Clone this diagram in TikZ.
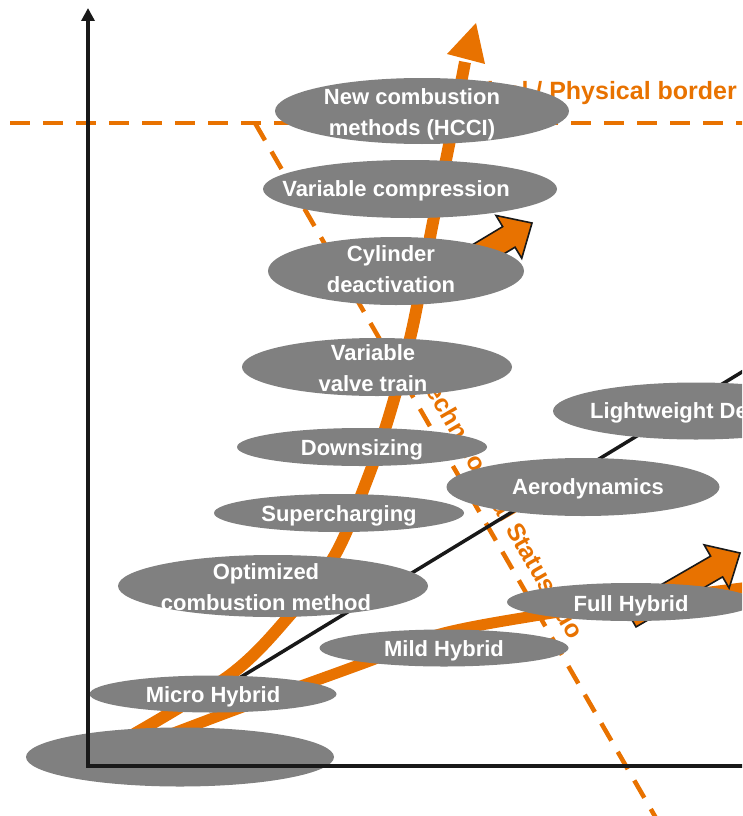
\documentclass[tikz,border=0pt]{standalone}
\usepackage{fontspec}
\setmainfont{Liberation Sans}
\usetikzlibrary{shapes.geometric,arrows.meta}
\definecolor{org}{RGB}{232,114,0}
\definecolor{gry}{RGB}{128,128,128}
\begin{document}
\begin{tikzpicture}[x=1pt,y=-1pt,
  ell/.style={ellipse, fill=gry, inner sep=0pt},
  lbl/.style={text=white, font=\bfseries\fontsize{22}{31}\selectfont, align=center, inner sep=0pt},
  lblone/.style={lbl, text height=16pt, text depth=0pt},
  otext/.style={text=org, font=\bfseries\fontsize{25}{30}\selectfont, inner sep=0pt},
  dashline/.style={org, line width=4.5pt, dash pattern=on 20pt off 13pt},
  trend/.style={org, line width=12pt},
  hybrid/.style={org, line width=11pt},
  blockarrow/.style={fill=org, draw=black!90, line width=1.6pt, line join=miter},
  axisline/.style={black!90, line width=3.5pt, line join=miter}]
\useasboundingbox (0,0) rectangle (742,816);
\clip (0,0) rectangle (742,816);

% borders
\coordinate (hb0) at (10,123);
\coordinate (hb1) at (745,123);
\coordinate (db0) at (255,123);
\coordinate (db1) at (660,825);
\draw[dashline] (hb0) -- (hb1);
\draw[dashline] (db0) -- (db1);
\node[otext, anchor=base west] (pb) at (362,99) {Technological / Physical border};
\node[otext, rotate=-60] (sq) at (500,507) {Technological Status quo};

% black trend line
\coordinate (mh) at (213,694);
\coordinate (bl1) at (760,361);
\draw[black!90, line width=3.5pt] (mh) -- (bl1);

% combustion trend
\draw[trend] plot[smooth, tension=0.55] coordinates {(122,741) (230,675) (290,615) (335,555) (367,480) (390,413) (412,330) (432,227) (448,150) (465,62)};
\coordinate (toptip) at (476,23);
\fill[org] (toptip) -- (447,54) -- (485,64) -- cycle;

% hybrid trend
\draw[hybrid] plot[smooth, tension=0.55] coordinates {(150,742) (240,708) (367,662) (440,634) (540,615) (640,601) (750,587)};

% block arrows
\begin{scope}[shift={(532,223)}, rotate=31]
\draw[blockarrow] (0,0) -- (-27,25) -- (-27,12) -- (-117,12) -- (-117,-12) -- (-27,-12) -- (-27,-25) -- cycle;
\end{scope}
\begin{scope}[shift={(740,553)}, rotate=30]
\draw[blockarrow] (0,0) -- (-27,25) -- (-27,12) -- (-127,12) -- (-127,-12) -- (-27,-12) -- (-27,-25) -- cycle;
\end{scope}

% ellipses
\node[ell, minimum width=294pt, minimum height=66pt] (e1) at (422,111) {};
\node[lbl] (t1) at (412,114) {New combustion\\methods (HCCI)};
\node[ell, minimum width=294pt, minimum height=58pt] (e2) at (410,189) {};
\node[lblone] (t2) at (396,188) {Variable compression};
\node[ell, minimum width=256pt, minimum height=68pt] (e3) at (396,271) {};
\node[lbl] (t3) at (391,269) {Cylinder\\deactivation};
\node[ell, minimum width=270pt, minimum height=58pt] (e4) at (377,367) {};
\node[lbl] (t4) at (373,368) {Variable\\valve train};
\node[ell, minimum width=286pt, minimum height=57pt] (e5) at (696,411) {};
\node[lblone, anchor=west] (t5) at (590,410) {Lightweight Design};
\node[ell, minimum width=250pt, minimum height=38pt] (e6) at (362,447) {};
\node[lblone] (t6) at (362,447) {Downsizing};
\node[ell, minimum width=273pt, minimum height=58pt] (e7) at (583,487) {};
\node[lblone] (t7) at (588,486) {Aerodynamics};
\node[ell, minimum width=250pt, minimum height=38pt] (e8) at (339,513) {};
\node[lblone] (t8) at (339,513) {Supercharging};
\node[ell, minimum width=310pt, minimum height=62pt] (e9) at (273,586) {};
\node[lbl] (t9) at (266,587) {Optimized\\combustion method};
\node[ell, minimum width=248pt, minimum height=38pt] (e10) at (631,602) {};
\node[lblone] (t10) at (631,603) {Full Hybrid};
\node[ell, minimum width=249pt, minimum height=37pt] (e11) at (444,648) {};
\node[lblone] (t11) at (444,648) {Mild Hybrid};
\node[ell, minimum width=247pt, minimum height=37pt] (e12) at (213,694) {};
\node[lblone] (t12) at (213,694) {Micro Hybrid};
\node[ell, minimum width=308pt, minimum height=59pt] (e13) at (180,757) {};

% axes
\coordinate (ytop) at (88,8);
\coordinate (origin) at (88,766);
\coordinate (xend) at (750,766);
\draw[axisline, {Triangle[length=13pt,width=13pt]}-] (ytop) -- (origin) -- (xend);
\end{tikzpicture}
\end{document}
